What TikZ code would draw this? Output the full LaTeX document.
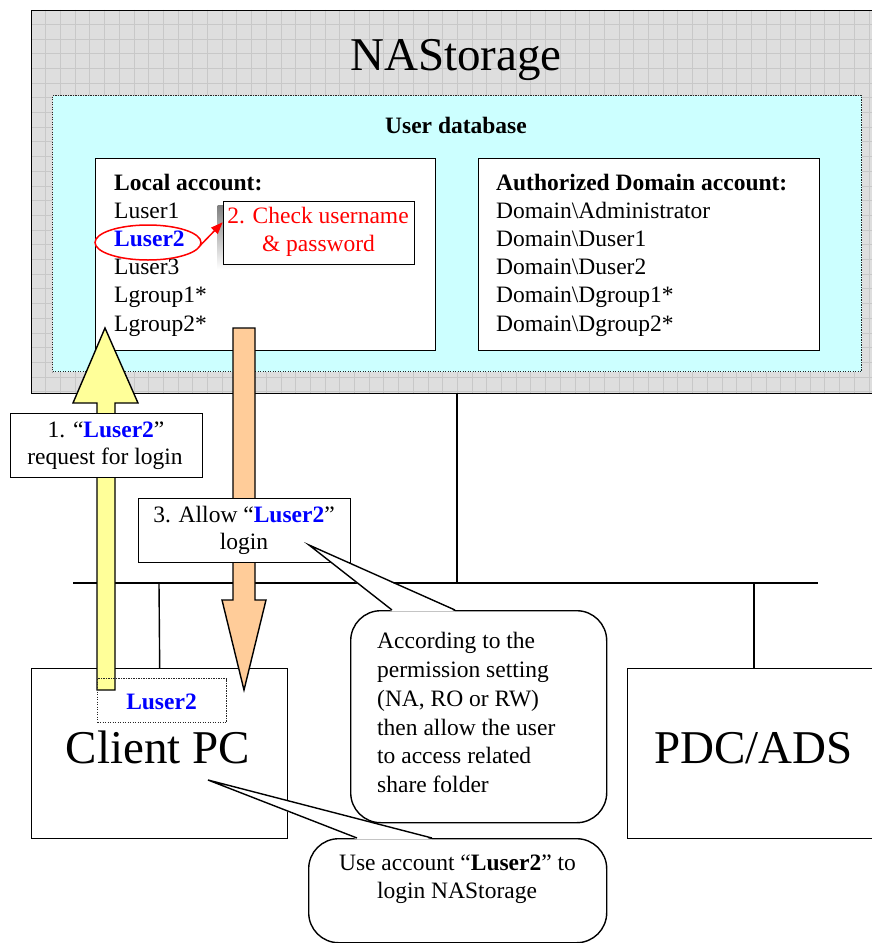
\documentclass[tikz,border=0pt]{standalone}
\usepackage{fontspec}
\setmainfont{Liberation Serif}
\usetikzlibrary{arrows.meta,calc}

\definecolor{gridbg}{HTML}{DEDEDE}
\definecolor{gridln}{HTML}{C8C8C8}
\definecolor{dbfill}{HTML}{CCFFFF}
\definecolor{upfill}{HTML}{FFFF99}
\definecolor{downfill}{HTML}{FFCC99}
\definecolor{uname}{HTML}{0000FF}
\definecolor{alert}{HTML}{FF0000}
\definecolor{shade}{HTML}{808080}

\newcommand\txtsize{\fontsize{23.5}{28}\selectfont}
\newcommand\bigsize{\fontsize{47}{52}\selectfont}
\newcommand\userid[1]{\textcolor{uname}{\bfseries #1}}

\begin{document}
\begin{tikzpicture}[x=1pt,y=-1pt,
  frame/.style={draw=black, line width=1.4pt},
  panel/.style={frame, fill=white, inner sep=0pt, anchor=north west},
  txt/.style={font=\txtsize, inner sep=0pt},
  line/.style={draw=black, line width=1.4pt},
  dotbox/.style={draw=black!85, line width=1.3pt, dash pattern=on 1.2pt off 1.3pt, inner sep=0pt, anchor=north west},
  callout/.style={panel, rounded corners=#1},
  blockarrow/.style={draw=black, line width=1.4pt}]

\useasboundingbox (0,0) rectangle (872,943);
\clip (0,0) rectangle (872,943);

% NAStorage server with its grid texture
\fill[gridbg] (31,9.5) rectangle (931,392.5);
\begin{scope}
  \clip (31,9.5) rectangle (931,392.5);
  \foreach \i in {1,...,62}
    \draw[gridln, line width=0.8pt] ({31+14.7*\i},9.5) -- ({31+14.7*\i},392.5);
  \foreach \j in {1,...,26}
    \draw[gridln, line width=0.8pt] (31,{9.5+14.7*\j}) -- (931,{9.5+14.7*\j});
\end{scope}
\node[frame, inner sep=0pt, anchor=north west,
      minimum width=900pt, minimum height=383pt] (nas) at (31,9.5) {};
\node[font=\bigsize, inner sep=0pt, anchor=base] (nastitle) at (456,70) {NAStorage};

% user database
\node[dotbox, fill=dbfill, minimum width=809pt, minimum height=276pt] (db) at (52,95) {};
\node[txt, font=\txtsize\bfseries, anchor=base] (dbtitle) at (456,133) {User database};

% local accounts
\node[panel, minimum width=340pt, minimum height=192pt] (local) at (95,158) {};
\node[txt, anchor=base west, font=\txtsize\bfseries] (la0) at (114,190.5) {Local account:};
\node[txt, anchor=base west] (la1) at (114,218.6) {Luser1};
\node[txt, anchor=base west] (la2) at (114,246.7) {\userid{Luser2}};
\node[txt, anchor=base west] (la3) at (114,274.8) {Luser3};
\node[txt, anchor=base west] (la4) at (114,302.9) {Lgroup1*};
\node[txt, anchor=base west] (la5) at (114,331.0) {Lgroup2*};

% domain accounts
\node[panel, minimum width=341pt, minimum height=192pt] (domain) at (478,158) {};
\node[txt, anchor=base west, font=\txtsize\bfseries] (da0) at (496,190.5) {Authorized Domain account:};
\node[txt, anchor=base west] (da1) at (496,218.6) {Domain\textbackslash Administrator};
\node[txt, anchor=base west] (da2) at (496,246.7) {Domain\textbackslash Duser1};
\node[txt, anchor=base west] (da3) at (496,274.8) {Domain\textbackslash Duser2};
\node[txt, anchor=base west] (da4) at (496,302.9) {Domain\textbackslash Dgroup1*};
\node[txt, anchor=base west] (da5) at (496,331.0) {Domain\textbackslash Dgroup2*};

% step 2: check credentials
\fill[shade] (217.5,205.5) rectangle (409.5,269);
\node[panel, minimum width=191pt, minimum height=63pt] (check) at (222.7,201) {};
\node[txt, anchor=base, text=alert] (c1) at (318,223.3) {2. Check username};
\node[txt, anchor=base, text=alert] (c2) at (318.5,251.7) {\& password};
\draw[alert, line width=1.5pt] (148,242.5) ellipse [x radius=53, y radius=17.5];
\coordinate (ringend) at (200.7,245);
\draw[alert, line width=1.5pt, -{Triangle[length=12pt,width=9pt]}]
  (ringend) -- ($(check.north west)!0.33!(check.south west)$);

% network bus
\coordinate (tap) at (457,583);
\coordinate (busL) at (73,583);
\coordinate (busR) at (818,583);
\coordinate (pctap) at (159,583);
\coordinate (pdctap) at (754,583);
\draw[line] (tap |- nas.south) -- (tap);
\draw[line] (busL) -- (busR);

% client and domain controller
\node[panel, minimum width=256pt, minimum height=170pt] (client) at (31,668) {};
\node[panel, minimum width=300pt, minimum height=170pt] (pdc) at (627,668) {};
\draw[line] (pctap) -- (client.north);
\draw[line] (pdctap) -- (pdctap |- pdc.north);
\node[font=\bigsize, inner sep=0pt, anchor=base] (clientname) at (158,763) {Client PC};
\node[font=\bigsize, inner sep=0pt, anchor=base] (pdcname) at (753.5,763) {PDC/ADS};

% block arrows: request up, reply down
\draw[blockarrow, fill=upfill]
  (105,328) -- (138,403) -- (115,403) -- (115,690) -- (97,690) -- (97,403) -- (73,403) -- cycle;
\draw[blockarrow, fill=downfill]
  (233,328) -- (255,328) -- (255,600) -- (266,600) -- (244,690) -- (222,600) -- (233,600) -- cycle;

% step labels
\node[panel, minimum width=192pt, minimum height=64pt] (step1) at (10,413) {};
\node[txt, anchor=base] (s1a) at (106,437) {1. “\userid{Luser2}”};
\node[txt, anchor=base] (s1b) at (105,464) {request for login};
\node[panel, minimum width=212pt, minimum height=64pt] (step3) at (138,498) {};
\node[txt, anchor=base] (s3a) at (244,522) {3. Allow “\userid{Luser2}”};
\node[txt, anchor=base] (s3b) at (244,549) {login};

% credentials held on the client
\node[dotbox, minimum width=129pt, minimum height=44pt] (cred) at (97,678) {};
\node[txt, anchor=base] (credname) at (161.5,709) {\userid{Luser2}};

% callout: permission check
\node[callout=30pt, minimum width=256pt, minimum height=212pt] (note1) at (350,610) {};
\coordinate (tip1) at (309,545);
\fill[white] (392,611.3) -- (tip1) -- (455,611.3) -- cycle;
\draw[line] (392,610) -- (tip1) -- (455,610);
\node[txt, anchor=base west] (n1a) at (377,648) {According to the};
\node[txt, anchor=base west] (n1b) at (377,677) {permission setting};
\node[txt, anchor=base west] (n1c) at (377,706) {(NA, RO or RW)};
\node[txt, anchor=base west] (n1d) at (377,735) {then allow the user};
\node[txt, anchor=base west] (n1e) at (377,763) {to access related};
\node[txt, anchor=base west] (n1f) at (377,792) {share folder};

% callout: client login
\node[callout=30pt, minimum width=298pt, minimum height=104pt] (note2) at (308,838) {};
\coordinate (tip2) at (208,780);
\fill[white] (357,839.3) -- (tip2) -- (432,839.3) -- cycle;
\draw[line] (357,838) -- (tip2) -- (432,838);
\node[txt, anchor=base] (n2a) at (457.5,870) {Use account “\textbf{Luser2}” to};
\node[txt, anchor=base] (n2b) at (457,898) {login NAStorage};
\end{tikzpicture}
\end{document}
